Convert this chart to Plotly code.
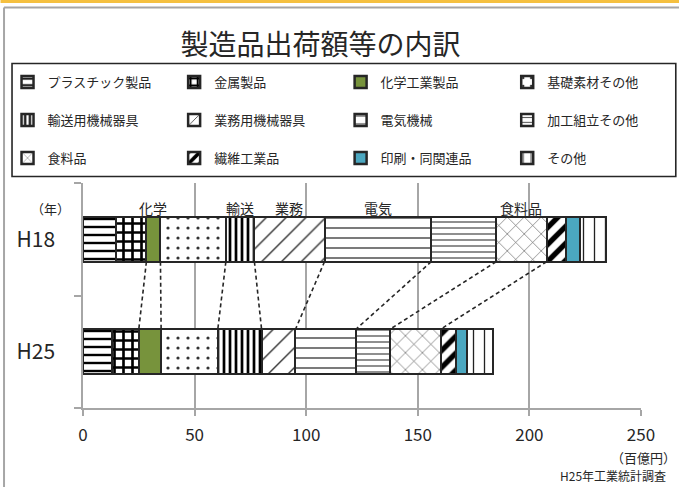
import plotly.graph_objects as go

# ---------------- data ----------------
years = ["H18", "H25"]
categories = ["プラスチック製品", "金属製品", "化学工業製品", "基礎素材その他",
              "輸送用機械器具", "業務用機械器具", "電気機械", "加工組立その他",
              "食料品", "繊維工業品", "印刷・同関連品", "その他"]
h18_values = [15.0, 13.4, 6.3, 29.3, 12.8, 31.4, 47.8, 29.1, 22.6, 8.9, 6.0, 11.9]
h25_values = [12.8, 12.2, 10.0, 25.4, 19.6, 15.2, 27.1, 15.2, 22.7, 7.1, 4.8, 11.4]
short_labels = {"化学工業製品": "化学", "輸送用機械器具": "輸送", "業務用機械器具": "業務",
                "電気機械": "電気", "食料品": "食料品"}
# boundaries linked with dashed lines (boundary after the k-th category)
linked_boundaries = [2, 3, 4, 5, 6, 7, 8, 9]
x_ticks = [0, 50, 100, 150, 200, 250]

# ---------------- styles ----------------
FONT = "Noto Sans CJK JP"
TXT = "#262626"
W, H = 679, 487
L, R, T, B = 82.5, 38.3, 183, 79
PW, PH = W - L - R, H - T - B

def px_x(px):
    return (px - L) / PW

def px_y(py):
    return (H - B - py) / PH

styles = [
    dict(shape="-", size=8, solidity=0.3, fg="#000000"),
    dict(shape="+", size=9, solidity=0.5, fg="#000000"),
    dict(shape="", color="#77933C"),
    dict(shape=".", size=10, solidity=0.08, fg="#333333"),
    dict(shape="|", size=6, solidity=0.45, fg="#000000"),
    dict(shape="/", size=14, solidity=0.1, fg="#333333"),
    dict(shape="-", size=10, solidity=0.12, fg="#222222"),
    dict(shape="-", size=6, solidity=0.22, fg="#555555"),
    dict(shape="x", size=12, solidity=0.1, fg="#555555"),
    dict(shape="/", size=12, solidity=0.45, fg="#000000"),
    dict(shape="", color="#4BA7C0"),
    dict(shape="|", size=11, solidity=0.12, fg="#222222"),
]

fig = go.Figure()
ypos = [1, 0]  # H18 on top
for i, cat in enumerate(categories):
    st = styles[i]
    if st["shape"] == "":
        marker = dict(color=st["color"], line=dict(color="#262626", width=2.5))
    else:
        marker = dict(color="#ffffff",
                      pattern=dict(shape=st["shape"], size=st["size"], solidity=st["solidity"],
                                   fgcolor=st["fg"], bgcolor="#ffffff", fillmode="replace"),
                      line=dict(color="#262626", width=2.5))
    row, col = i // 4, i % 4
    legend_id = "legend" if (row == 0 and col < 2) else "legend%d" % (row * 2 + col // 2 + 1)
    fig.add_trace(go.Bar(
        x=[h18_values[i], h25_values[i]], y=ypos, orientation="h", width=0.4,
        name=cat, marker=marker, legend=legend_id, hoverinfo="name+x",
    ))

# dashed connector lines between bars
cum18, cum25 = [], []
s18 = s25 = 0.0
for a, b in zip(h18_values, h25_values):
    s18 += a; s25 += b
    cum18.append(s18); cum25.append(s25)
for k in linked_boundaries:
    fig.add_trace(go.Scatter(
        x=[cum18[k - 1], cum25[k - 1]], y=[1 - 0.2, 0 + 0.2], mode="lines",
        line=dict(color="#262626", width=1.6, dash="4px,3px"),
        showlegend=False, hoverinfo="skip",
    ))

# short category labels above H18 bar
annotations = []
for i, cat in enumerate(categories):
    if cat in short_labels:
        start = cum18[i] - h18_values[i]
        annotations.append(dict(
            x=start + h18_values[i] / 2, y=1.28, xref="x", yref="y",
            xanchor="center", yanchor="middle",
            text=short_labels[cat], showarrow=False,
            font=dict(family=FONT, size=14, color=TXT)))

annotations += [
    dict(x=px_x(50), y=px_y(208), xref="paper", yref="paper", text="（年）",
         xanchor="center", yanchor="middle",
         showarrow=False, font=dict(family=FONT, size=13, color=TXT)),
    dict(x=px_x(678), y=px_y(457), xref="paper", yref="paper", text="（百億円）",
         xanchor="right", yanchor="middle", showarrow=False,
         font=dict(family=FONT, size=13, color=TXT)),
    dict(x=px_x(668), y=px_y(475), xref="paper", yref="paper", text="H25年工業統計調査",
         xanchor="right", yanchor="middle", showarrow=False,
         font=dict(family=FONT, size=12, color=TXT)),
]

shapes = [
    dict(type="rect", xref="paper", yref="paper", x0=px_x(0), x1=px_x(W), y0=px_y(0), y1=px_y(3),
         fillcolor="#F5C040", line=dict(width=0), layer="below"),
    dict(type="line", xref="paper", yref="paper", x0=px_x(3.5), x1=px_x(W), y0=px_y(7.5), y1=px_y(7.5),
         line=dict(color="#A6A6A6", width=2)),
    dict(type="line", xref="paper", yref="paper", x0=px_x(3.5), x1=px_x(3.5), y0=px_y(7.5), y1=px_y(H),
         line=dict(color="#A6A6A6", width=2)),
    dict(type="rect", xref="paper", yref="paper", x0=px_x(11.5), x1=px_x(675.5), y0=px_y(63.5), y1=px_y(176.5),
         line=dict(color="#262626", width=1.6), fillcolor="rgba(0,0,0,0)"),
]

legend_common = dict(orientation="h", xref="paper", yref="paper", xanchor="left",
                     yanchor="middle", entrywidth=121.6, entrywidthmode="pixels",
                     font=dict(family=FONT, size=13, color=TXT), bgcolor="rgba(0,0,0,0)",
                     borderwidth=0, traceorder="normal")
row_y = [82, 120, 158]
half_x = [7, 7 + 2 * 166.6]
legends = {}
for r in range(3):
    for h in range(2):
        idx = r * 2 + h + 1
        key = "legend" if idx == 1 else "legend%d" % idx
        legends[key] = dict(legend_common, x=px_x(half_x[h]), y=px_y(row_y[r]))

fig.update_layout(
    width=W, height=H,
    margin=dict(l=L, r=R, t=T, b=B, pad=0, autoexpand=False),
    paper_bgcolor="#ffffff", plot_bgcolor="#ffffff",
    barmode="stack", bargap=0,
    title=dict(text="製造品出荷額等の内訳", x=px_x(320), xref="paper", xanchor="center",
               y=1 - 45 / H, yref="container", yanchor="middle",
               font=dict(family=FONT, size=28, color=TXT)),
    xaxis=dict(range=[0, 250], tickvals=x_ticks, ticks="outside", ticklen=6, tickcolor="#A6A6A6",
               tickwidth=1.5, showgrid=True, gridcolor="#A6A6A6", gridwidth=1.5,
               showline=True, linecolor="#A6A6A6", linewidth=1.5, zeroline=False,
               ticklabelstandoff=5,
               tickfont=dict(family=FONT, size=17, color=TXT)),
    yaxis=dict(range=[-0.5, 1.5], tickvals=ypos, ticktext=years, ticks="", showgrid=False,
               showline=True, linecolor="#A6A6A6", linewidth=1.5, zeroline=False,
               ticklabelstandoff=22,
               minor=dict(ticks="outside", tick0=0.5, dtick=1, ticklen=7, tickcolor="#A6A6A6",
                          tickwidth=1.5, showgrid=False),
               tickfont=dict(family=FONT, size=21, color=TXT)),
    annotations=annotations,
    shapes=shapes,
    showlegend=True,
    **legends,
)

fig.write_html("out.html")
